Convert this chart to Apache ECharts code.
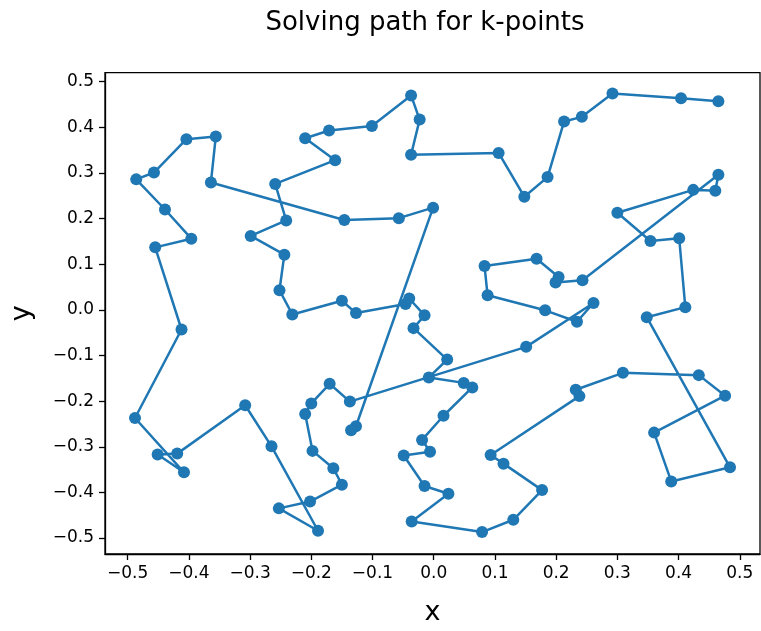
<!DOCTYPE html>
<html><head><meta charset="utf-8">
<script src="https://cdn.jsdelivr.net/npm/echarts@6/dist/echarts.min.js"></script>
<style>html,body{margin:0;padding:0;background:#fff}#c{width:761px;height:631px}</style>
</head><body><div id="c"></div>
<script>
var xs = [0.465,0.404,0.292,0.242,0.213,0.186,0.148,0.106,-0.037,-0.023,-0.037,-0.101,-0.171,-0.210,-0.161,-0.259,-0.241,-0.299,-0.244,-0.252,-0.231,-0.150,-0.127,-0.046,-0.040,-0.015,-0.033,0.022,-0.008,0.049,0.063,0.016,-0.019,-0.006,-0.049,-0.015,0.024,-0.036,0.079,0.130,0.177,0.114,0.093,0.238,0.232,0.309,0.433,0.476,0.360,0.388,0.484,0.348,0.411,0.401,0.354,0.300,0.424,0.460,0.465,0.243,0.199,0.204,0.168,0.083,0.088,0.182,0.234,0.261,0.151,-0.137,-0.170,-0.200,-0.210,-0.198,-0.164,-0.150,-0.202,-0.253,-0.189,-0.265,-0.308,-0.419,-0.451,-0.408,-0.488,-0.412,-0.455,-0.396,-0.439,-0.486,-0.457,-0.404,-0.356,-0.364,-0.146,-0.057,-0.001,-0.127,-0.135];
var ys = [0.457,0.464,0.474,0.423,0.413,0.291,0.248,0.344,0.340,0.417,0.470,0.403,0.393,0.376,0.328,0.276,0.196,0.162,0.121,0.043,-0.010,0.020,-0.007,0.013,0.025,-0.012,-0.040,-0.109,-0.148,-0.160,-0.170,-0.232,-0.285,-0.311,-0.319,-0.386,-0.403,-0.464,-0.487,-0.460,-0.395,-0.337,-0.318,-0.189,-0.175,-0.138,-0.143,-0.188,-0.269,-0.376,-0.345,-0.016,0.006,0.157,0.151,0.213,0.263,0.261,0.296,0.065,0.060,0.072,0.112,0.096,0.032,-0.001,-0.026,0.015,-0.081,-0.201,-0.162,-0.205,-0.228,-0.309,-0.347,-0.383,-0.420,-0.435,-0.484,-0.299,-0.209,-0.315,-0.317,-0.356,-0.237,-0.043,0.137,0.156,0.220,0.286,0.301,0.374,0.380,0.279,0.197,0.201,0.224,-0.255,-0.264];
var tickVals = [-0.5,-0.4,-0.3,-0.2,-0.1,0,0.1,0.2,0.3,0.4,0.5];
var titleText = 'Solving path for k-points';

var pts = xs.map(function(x,i){return [x, ys[i]];});
function fmt(v){ var s = Math.abs(v).toFixed(1); return (v < -1e-9 ? '\u2212' : '') + s; }
var FONT = 'DejaVu Sans';
var axisCommon = {
  type:'value', splitLine:{show:false},
  axisLine:{show:true, onZero:false, lineStyle:{color:'#000', width:1.3}},
  axisTick:{show:true, customValues:tickVals, length:6, lineStyle:{color:'#000', width:1.3}},
  axisLabel:{customValues:tickVals, formatter:fmt, color:'#000', fontFamily:FONT, fontSize:17, margin:11}
};
var chart = echarts.init(document.getElementById('c'), null, {renderer:'canvas'});
chart.setOption({
  animation:false,
  title:{text:titleText, left:420, top:5, textAlign:'center', textStyle:{fontFamily:FONT, fontWeight:'normal', fontSize:26, color:'#000'}},
  grid:{left:98, right:1, top:72.6, bottom:62, show:true, borderColor:'#000', borderWidth:1.3, containLabel:false},
  xAxis:Object.assign({}, axisCommon, {min:-0.537, max:0.533, name:'x', nameLocation:'middle', nameGap:45, nameTextStyle:{fontFamily:FONT, fontSize:27, color:'#000'}}),
  yAxis:Object.assign({}, axisCommon, {min:-0.535, max:0.52, name:'y', nameLocation:'middle', nameGap:70, nameRotate:90, nameTextStyle:{fontFamily:FONT, fontSize:27, color:'#000'}}),
  series:[{type:'line', data:pts, symbol:'circle', symbolSize:12, showAllSymbol:true,
    itemStyle:{color:'#1f77b4'}, lineStyle:{color:'#1f77b4', width:2.5}, clip:false}]
});
</script></body></html>
